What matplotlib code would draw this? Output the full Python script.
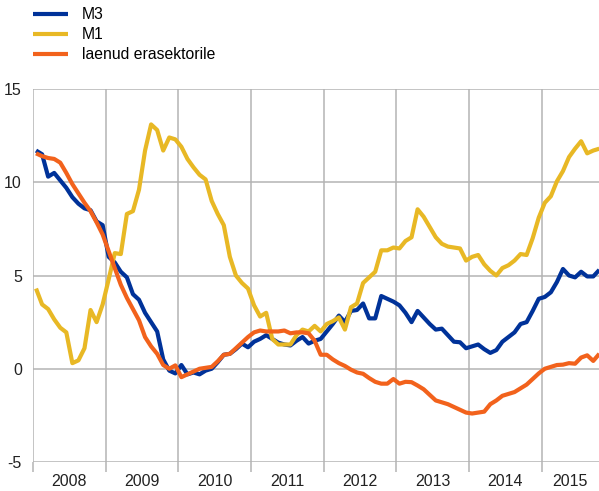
import matplotlib
matplotlib.use("Agg")
import matplotlib.pyplot as plt
import numpy as np

plt.rcParams['font.family'] = ['Liberation Sans', 'DejaVu Sans']

years = ["2008", "2009", "2010", "2011", "2012", "2013", "2014", "2015"]
series_names = ["M3", "M1", "laenud erasektorile"]

# monthly values, Jan 2008 .. Oct 2015
m3 = [11.7, 11.5, 10.3, 10.5, 10.1, 9.7, 9.2, 8.85, 8.6, 8.5,
      7.9, 7.7, 6.0, 5.7, 5.2, 4.9, 4.0, 3.7, 3.0, 2.5,
      2.0, 0.5, -0.1, -0.25, 0.2, -0.3, -0.2, -0.3, -0.1, 0.0,
      0.35, 0.75, 0.8, 1.05, 1.35, 1.15, 1.45, 1.6, 1.8, 1.6,
      1.4, 1.3, 1.25, 1.5, 1.7, 1.35, 1.5, 1.6, 2.0, 2.4,
      2.85, 2.5, 3.1, 3.15, 3.5, 2.7, 2.7, 3.9, 3.75, 3.6,
      3.4, 3.0, 2.5, 3.1, 2.75, 2.4, 2.1, 2.15, 1.8, 1.45,
      1.42, 1.1, 1.2, 1.3, 1.05, 0.85, 1.0, 1.45, 1.7, 1.95,
      2.4, 2.5, 3.1, 3.75, 3.85, 4.1, 4.65, 5.35, 5.0, 4.9,
      5.2, 4.95, 4.95, 5.3]

m1 = [4.3, 3.45, 3.2, 2.65, 2.2, 1.95, 0.3, 0.45, 1.1, 3.15,
      2.5, 3.45, 4.8, 6.2, 6.15, 8.3, 8.45, 9.6, 11.7, 13.1,
      12.8, 11.7, 12.4, 12.3, 11.9, 11.25, 10.8, 10.4, 10.15, 9.0,
      8.3, 7.7, 6.0, 5.0, 4.6, 4.3, 3.4, 2.8, 3.0, 1.6,
      1.3, 1.3, 1.3, 1.8, 2.1, 2.0, 2.3, 2.0, 2.4, 2.55,
      2.75, 2.1, 3.3, 3.5, 4.6, 4.9, 5.2, 6.35, 6.35, 6.5,
      6.45, 6.85, 7.05, 8.55, 8.15, 7.6, 7.05, 6.7, 6.55, 6.5,
      6.45, 5.8, 6.0, 6.1, 5.6, 5.25, 5.0, 5.4, 5.55, 5.8,
      6.15, 6.1, 7.0, 8.1, 8.9, 9.25, 10.05, 10.6, 11.35, 11.8,
      12.2, 11.55, 11.7, 11.8]

loans = [11.55, 11.4, 11.3, 11.25, 11.05, 10.5, 9.9, 9.4, 8.9, 8.45,
         7.85, 7.2, 6.3, 5.4, 4.5, 3.8, 3.2, 2.6, 1.7, 1.2,
         0.8, 0.2, 0.0, 0.18, -0.45, -0.3, -0.15, 0.0, 0.05, 0.1,
         0.4, 0.75, 0.8, 1.1, 1.4, 1.7, 1.95, 2.05, 2.0, 2.0,
         2.0, 2.05, 1.9, 1.95, 1.95, 1.9, 1.5, 0.75, 0.75, 0.5,
         0.3, 0.15, -0.05, -0.2, -0.27, -0.5, -0.7, -0.8, -0.8, -0.55,
         -0.8, -0.7, -0.72, -0.9, -1.1, -1.4, -1.7, -1.8, -1.9, -2.05,
         -2.2, -2.35, -2.4, -2.35, -2.3, -1.9, -1.7, -1.45, -1.35, -1.25,
         -1.05, -0.85, -0.55, -0.25, 0.0, 0.1, 0.2, 0.22, 0.3, 0.27,
         0.6, 0.72, 0.42, 0.8]

y_ticks = [-5, 0, 5, 10, 15]
colors = ["#003299", "#E8B825", "#F2621C"]

W, H = 599, 491
fig = plt.figure(figsize=(W / 100, H / 100), dpi=100)
ax = fig.add_axes([33 / W, 29 / H, 1 - 33 / W, (462 - 89) / H])

n = len(m3)
x = np.arange(n) + 0.5
xmax = 93.45

grid_c = "#b4b4b4"
for yv in y_ticks:
    ax.axhline(yv, color=grid_c, lw=1.1, zorder=1)
for k in range(len(years)):
    ax.axvline(k * 12, color=grid_c, lw=1.1, zorder=1)

for vals, c, name in zip([m3, m1, loans], colors, series_names):
    ax.plot(x, vals, color=c, lw=3.0, label=name, zorder=3,
            solid_joinstyle='round', solid_capstyle='butt')

ax.set_xlim(0, xmax)
ax.set_ylim(-5, 15)
for s in ax.spines.values():
    s.set_visible(False)

ax.set_yticks(y_ticks)
ax.set_yticklabels([str(v) for v in y_ticks])
ax.tick_params(axis='y', length=0, pad=8, labelsize=11.5, colors='#222222')

ax.set_xticks([k * 12 for k in range(len(years))])
ax.set_xticklabels([])
ax.tick_params(axis='x', which='major', length=7, width=1.1, color=grid_c, direction='out')
centers = [min(k * 12 + 6, (k * 12 + xmax) / 2) for k in range(len(years))]
ax.set_xticks(centers, minor=True)
ax.set_xticklabels(years, minor=True)
ax.tick_params(axis='x', which='minor', length=0, pad=9, labelsize=11.5, colors='#222222')

fig.legend(loc='upper left', bbox_to_anchor=(33 / W, 1 - 7 / H), frameon=False,
           borderpad=0, borderaxespad=0, handlelength=2.2, handletextpad=0.9,
           labelspacing=0.32, fontsize=11.3)

fig.savefig("out.png", dpi=100)
